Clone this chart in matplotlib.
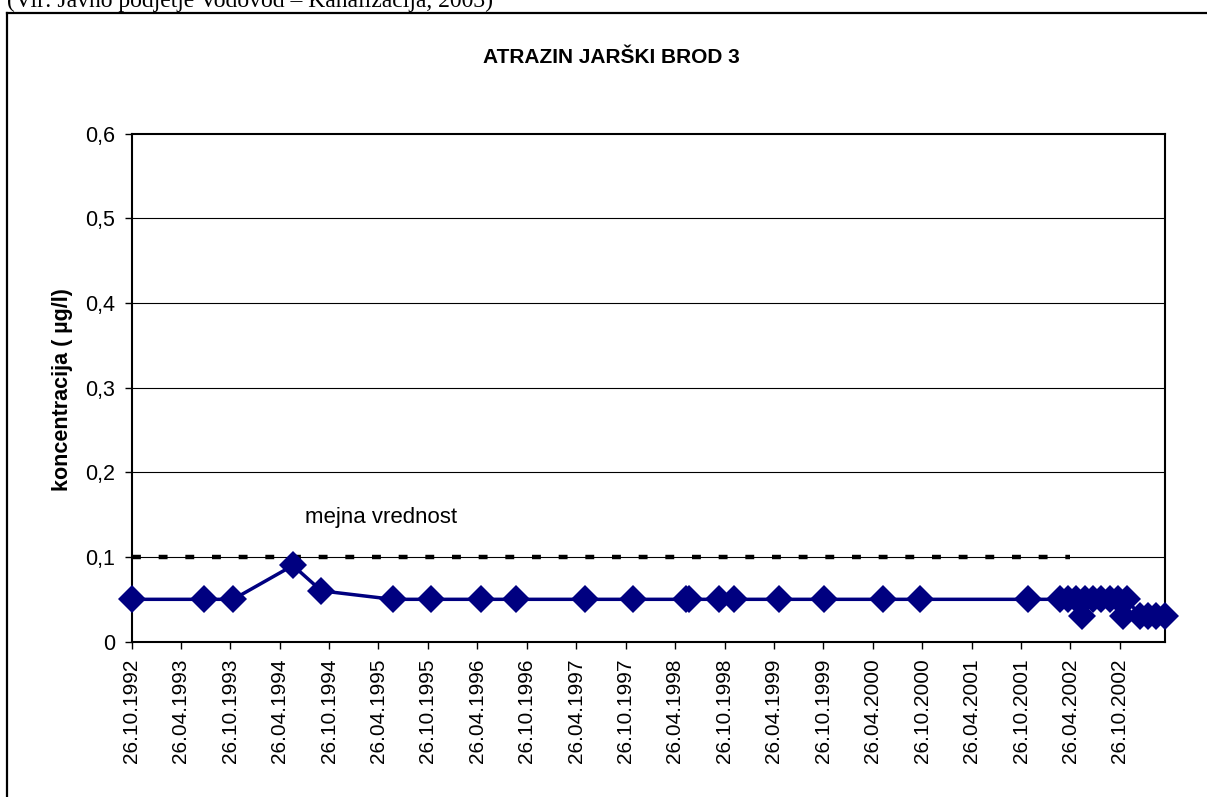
import numpy as np
import pandas as pd
import matplotlib
matplotlib.use("Agg")
import matplotlib.pyplot as plt
import matplotlib.dates as mdates
from matplotlib.lines import Line2D

plt.rcParams['font.family'] = ['Liberation Sans', 'DejaVu Sans']

# measured atrazine concentrations (ug/l)
dates = ["26.10.1992", "20.07.1993", "05.11.1993", "14.06.1994", "27.09.1994",
         "18.06.1995", "07.11.1995", "09.05.1996", "15.09.1996", "29.05.1997",
         "22.11.1997", "04.06.1998", "16.06.1998", "05.10.1998", "29.11.1998",
         "14.05.1999", "30.10.1999", "01.06.2000", "18.10.2000", "19.11.2001",
         "20.03.2002", "18.04.2002", "18.05.2002", "09.06.2002", "20.06.2002",
         "19.07.2002", "18.08.2002", "20.09.2002", "20.10.2002", "07.11.2002",
         "22.11.2002", "09.01.2003", "07.02.2003", "09.03.2003", "11.04.2003"]
values = [0.05, 0.05, 0.05, 0.09, 0.06,
          0.05, 0.05, 0.05, 0.05, 0.05,
          0.05, 0.05, 0.05, 0.05, 0.05,
          0.05, 0.05, 0.05, 0.05, 0.05,
          0.05, 0.05, 0.05, 0.03, 0.05,
          0.05, 0.05, 0.05, 0.05, 0.03,
          0.05, 0.03, 0.03, 0.03, 0.03]

# limit value line
limit_dates = ["26.10.1992", "26.04.2002"]
limit_value = 0.1

tick_labels = ["26.10.1992", "26.04.1993", "26.10.1993", "26.04.1994", "26.10.1994",
               "26.04.1995", "26.10.1995", "26.04.1996", "26.10.1996", "26.04.1997",
               "26.10.1997", "26.04.1998", "26.10.1998", "26.04.1999", "26.10.1999",
               "26.04.2000", "26.10.2000", "26.04.2001", "26.10.2001", "26.04.2002",
               "26.10.2002"]
y_ticks = [0, 0.1, 0.2, 0.3, 0.4, 0.5, 0.6]
y_labels = ["0", "0,1", "0,2", "0,3", "0,4", "0,5", "0,6"]

d = pd.to_datetime(dates, format="%d.%m.%Y")
ld = pd.to_datetime(limit_dates, format="%d.%m.%Y")
td = pd.to_datetime(tick_labels, format="%d.%m.%Y")

fig = plt.figure(figsize=(12.07, 7.97), dpi=100)
ax = fig.add_axes([0.1091, 0.1949, 0.8561, 0.6375])

for yv in y_ticks[1:-1]:
    ax.axhline(yv, color='black', lw=0.8, zorder=1)

ax.plot(ld, [limit_value] * len(ld), color='black', lw=3.2,
        linestyle=(0, (2, 4)), dash_capstyle='butt', zorder=2)

ax.plot(d, values, color='#000080', lw=2.5, marker='D', ms=14,
        markerfacecolor='#000080', markeredgecolor='#000080', markeredgewidth=0,
        clip_on=False, zorder=3)

ax.set_xlim(d[0], d[-1])
ax.set_ylim(0, 0.6)
ax.set_yticks(y_ticks)
ax.set_yticklabels(y_labels, fontsize=15.5)
ax.set_xticks(td)
ax.set_xticklabels(tick_labels, rotation=90, fontsize=15)
ax.tick_params(axis='both', direction='out', length=5, width=1, color='black', pad=7)

for s in ax.spines.values():
    s.set_linewidth(1.5)
    s.set_color('black')

ax.text(0.168, 0.2336, "mejna vrednost", transform=ax.transAxes,
        fontsize=16, va='baseline', ha='left')

fig.text(0.5066, 0.9279, "ATRAZIN JARŠKI BROD 3", fontsize=15,
         fontweight='bold', ha='center', va='center')
fig.text(0.0514, 0.5107, "koncentracija ( µg/l)", fontsize=15.5, fontweight='bold',
         rotation=90, ha='center', va='center')

# source note above the chart frame (cut at the top, as in the original page)
fig.text(7 / 1207, 1 - 7 / 797, "(Vir: Javno podjetje Vodovod – Kanalizacija, 2003)",
         fontsize=17, family=['Liberation Serif', 'DejaVu Serif'],
         ha='left', va='baseline')

# outer chart frame
fig.add_artist(Line2D([6.5 / 1207, 6.5 / 1207], [0, 1 - 12.5 / 797],
                      transform=fig.transFigure, color='black', lw=1.6))
fig.add_artist(Line2D([6.5 / 1207, 1.0], [1 - 12.5 / 797, 1 - 12.5 / 797],
                      transform=fig.transFigure, color='black', lw=1.6))

fig.savefig("out.png", dpi=100)
